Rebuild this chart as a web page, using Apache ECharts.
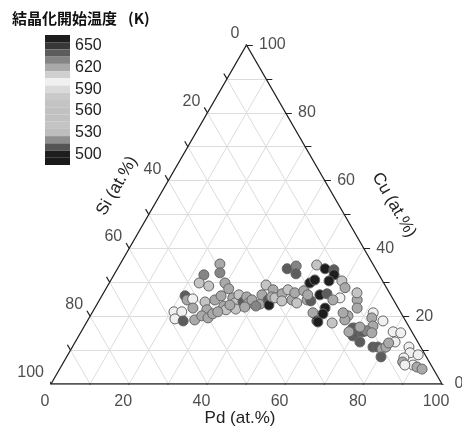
<!DOCTYPE html>
<html><head><meta charset="utf-8">
<script src="https://cdn.jsdelivr.net/npm/echarts@6/dist/echarts.min.js"></script>
<style>html,body{margin:0;padding:0;background:#fff}#c{width:462px;height:427px}</style>
</head><body><div id="c"></div><script>
// Pd (at.%) and Cu (at.%) of each sample (Si = 100 - Pd - Cu), and crystallization onset temperature (K)
const pd = [25.5,26.8,23.0,23.0,25.9,29.6,31.4,21.3,22.4,23.7,27.3,29.5,30.5,25.1,28.9,20.8,22.8,22.1,24.5,27.3,
  28.5,30.4,31.0,32.7,33.8,33.8,35.1,34.9,37.0,37.2,38.6,36.2,38.2,32.0,34.1,41.7,40.8,40.4,43.1,44.1,
  42.9,43.6,44.6,45.8,46.7,46.8,49.2,48.9,50.9,43.4,45.3,46.4,50.9,53.1,54.2,51.3,52.1,50.4,56.5,58.7,
  53.1,55.5,56.3,55.9,59.2,61.0,52.5,55.6,57.3,61.2,65.9,58.9,59.2,59.1,62.9,65.9,65.7,69.4,69.3,67.1,
  64.8,64.2,59.7,71.9,72.3,75.6,73.8,68.9,70.8,72.1,72.9,74.5,70.1,72.8,79.8,81.9,81.8,76.9,78.1,79.5,
  80.2,80.3,80.4,86.1,87.2,89.6,86.4,86.7,89.8,91.1,92.7,87.7,70.6,68.5,39.0,40.9];
const cu = [35.4,32.8,32.2,29.8,28.9,29.8,28.1,26.0,24.8,25.1,24.2,24.8,26.0,22.4,21.9,21.3,21.3,19.2,18.6,18.9,
  20.1,19.5,20.7,23.0,21.9,25.4,23.9,26.3,24.2,25.7,23.9,22.1,22.7,21.3,23.3,23.6,26.3,29.2,24.8,23.3,
  27.8,25.7,25.4,26.6,27.8,24.5,24.8,26.9,23.9,34.0,34.8,32.5,27.5,24.8,24.5,29.8,30.7,35.1,21.0,18.6,
  34.0,33.7,32.2,30.4,30.4,28.4,26.3,26.3,26.6,25.4,24.8,22.4,20.7,18.3,18.0,20.1,18.9,16.5,15.4,22.4,
  26.9,21.0,24.8,21.0,19.5,18.6,17.1,16.5,15.4,15.4,15.7,15.1,14.2,12.4,15.4,15.1,12.4,10.9,10.9,10.3,
  10.9,12.1,8.0,10.9,9.2,8.6,7.7,6.5,5.6,5.0,4.4,5.6,16.8,15.4,24.8,23.0];
const temp = [620,630,630,570,570,620,620,640,620,600,570,620,620,620,620,600,600,600,640,620,
  620,620,620,620,570,620,570,570,640,620,620,570,620,620,620,620,620,570,640,500,
  620,620,570,620,570,570,620,620,570,640,630,640,620,620,640,500,500,570,620,500,
  500,640,500,500,570,620,620,500,640,600,620,500,500,500,570,620,620,620,620,620,
  570,620,620,600,620,600,620,640,640,640,630,620,640,640,600,600,600,640,640,620,
  620,620,640,600,600,600,600,620,600,620,620,600,620,620,620,630];

const gridSteps = [10,20,30,40,50,60,70,80,90];
const tickValues = [0,10,20,30,40,50,60,70,80,90,100];
const tickLabels = [0,20,40,60,80,100];

// colour scale pieces (K), top to bottom
const pieceMin = [655,645,635,625,615,605,595,585,575,565,555,545,535,525,515,505,495,485];
const pieceColor = ['#1e1e1e','#383838','#5c5c5c','#858585','#a9a9a9','#cfcfcf','#f0f0f0','#dadada','#cacaca',
  '#c4c4c4','#c1c1c1','#c1c1c1','#c4c4c4','#bdbdbd','#8e8e8e','#555555','#1e1e1e','#1a1a1a'];
const scaleLabels = [650,620,590,560,530,500];

const S3 = Math.sqrt(3) / 2;
function xy(p, c) { return [p + c / 2, c * S3]; }

const gridSegs = [];
gridSteps.forEach(k => {
  gridSegs.push({coords: [xy(0, k), xy(100 - k, k)]});
  gridSegs.push({coords: [xy(k, 0), xy(k, 100 - k)]});
  gridSegs.push({coords: [xy(100 - k, 0), xy(0, 100 - k)]});
});
const L = 1.6;
const tickSegs = [];
tickValues.forEach(k => {
  const a = xy(k, 0); tickSegs.push({coords: [a, [a[0] - L * 0.5, a[1] - L * S3]]});
  const b = xy(100 - k, k); tickSegs.push({coords: [b, [b[0] + L, b[1]]]});
  const c = xy(0, 100 - k); tickSegs.push({coords: [c, [c[0] - L * 0.5, c[1] + L * S3]]});
});
const border = [{coords: [xy(0, 0), xy(100, 0), xy(0, 100), xy(0, 0)]}];

const points = pd.map((p, i) => { const q = xy(p, cu[i]); return [q[0], q[1], temp[i]]; });

const FONT = "'Liberation Sans Narrow','Liberation Sans',Arial,sans-serif";
const lblStyle = {show: true, position: 'inside', formatter: '{b}', fontFamily: FONT, fontSize: 16, color: '#222'};
function labelSeries(fn, extra) {
  return Object.assign({
    type: 'scatter', symbol: 'circle', symbolSize: 1, silent: true, z: 5,
    itemStyle: {color: 'rgba(0,0,0,0)'},
    data: tickLabels.map(k => ({value: fn(k), name: String(k)}))
  }, extra);
}

// colour bar geometry (legend)
const barLeft = 45, barTop = 35, barW = 25, barH = 130;
const itemH = barH / pieceMin.length;
const scaleText = scaleLabels.map(v => {
  const idx = pieceMin.indexOf(v - 5);
  return {type: 'text', x: barLeft + barW + 5, y: barTop + (idx + 0.5) * itemH,
    style: {text: String(v), font: "16px " + FONT, fill: '#222', align: 'left', verticalAlign: 'middle'}};
});

const chart = echarts.init(document.getElementById('c'), null, {renderer: 'canvas'});
chart.setOption({
  animation: false,
  backgroundColor: '#fff',
  grid: {left: 51, right: 20, top: 45, bottom: 43},
  xAxis: {type: 'value', min: 0, max: 100, show: false},
  yAxis: {type: 'value', min: 0, max: 100 * S3, show: false},
  visualMap: {
    type: 'piecewise', orient: 'vertical', left: barLeft, top: barTop, align: 'left', padding: 0,
    itemWidth: barW, itemHeight: itemH, itemGap: 0, itemSymbol: 'rect', showLabel: false,
    dimension: 2, seriesIndex: 3, selectedMode: false, hoverLink: false,
    pieces: pieceMin.map((m, i) => ({min: m, max: m + 10, color: pieceColor[i]}))
  },
  graphic: scaleText.concat([
    {type: 'text', left: 12, top: 11, style: {text: '結晶化開始温度', font: "bold 15px 'Noto Sans CJK JP'", fill: '#111'}},
    {type: 'text', left: 128, top: 11, style: {text: '(K)', font: "bold 15px 'Noto Sans CJK JP'", fill: '#111'}},
    {type: 'text', x: 240, y: 418, style: {text: 'Pd (at.%)', font: "17px " + FONT, fill: '#222', align: 'center', verticalAlign: 'middle'}},
    {type: 'text', x: 117, y: 186, rotation: Math.PI / 3, style: {text: 'Si (at.%)', font: "17px " + FONT, fill: '#222', align: 'center', verticalAlign: 'middle'}},
    {type: 'text', x: 394, y: 205, rotation: -Math.PI / 3, style: {text: 'Cu (at.%)', font: "17px " + FONT, fill: '#222', align: 'center', verticalAlign: 'middle'}}
  ]),
  series: [
    {type: 'lines', coordinateSystem: 'cartesian2d', silent: true, z: 1, data: gridSegs,
      lineStyle: {color: '#dcdcdc', width: 1, opacity: 1}},
    {type: 'lines', coordinateSystem: 'cartesian2d', silent: true, z: 2, data: tickSegs,
      lineStyle: {color: '#222', width: 1.2, opacity: 1}},
    {type: 'lines', coordinateSystem: 'cartesian2d', polyline: true, silent: true, z: 2, data: border,
      lineStyle: {color: '#222', width: 1.3, opacity: 1}},
    {type: 'scatter', z: 3, symbol: 'circle', symbolSize: 10, data: points,
      itemStyle: {borderColor: '#666', borderWidth: 1, opacity: 1}},
    labelSeries(k => xy(k, 0), {label: Object.assign({}, lblStyle, {offset: [-6, 18], align: 'center'})}),
    labelSeries(k => xy(100 - k, k), {label: Object.assign({}, lblStyle, {offset: [12.5, 0], align: 'left'})}),
    labelSeries(k => xy(0, 100 - k), {label: Object.assign({}, lblStyle, {offset: [-7, -11.5], align: 'right'})})
  ]
});
</script></body></html>
